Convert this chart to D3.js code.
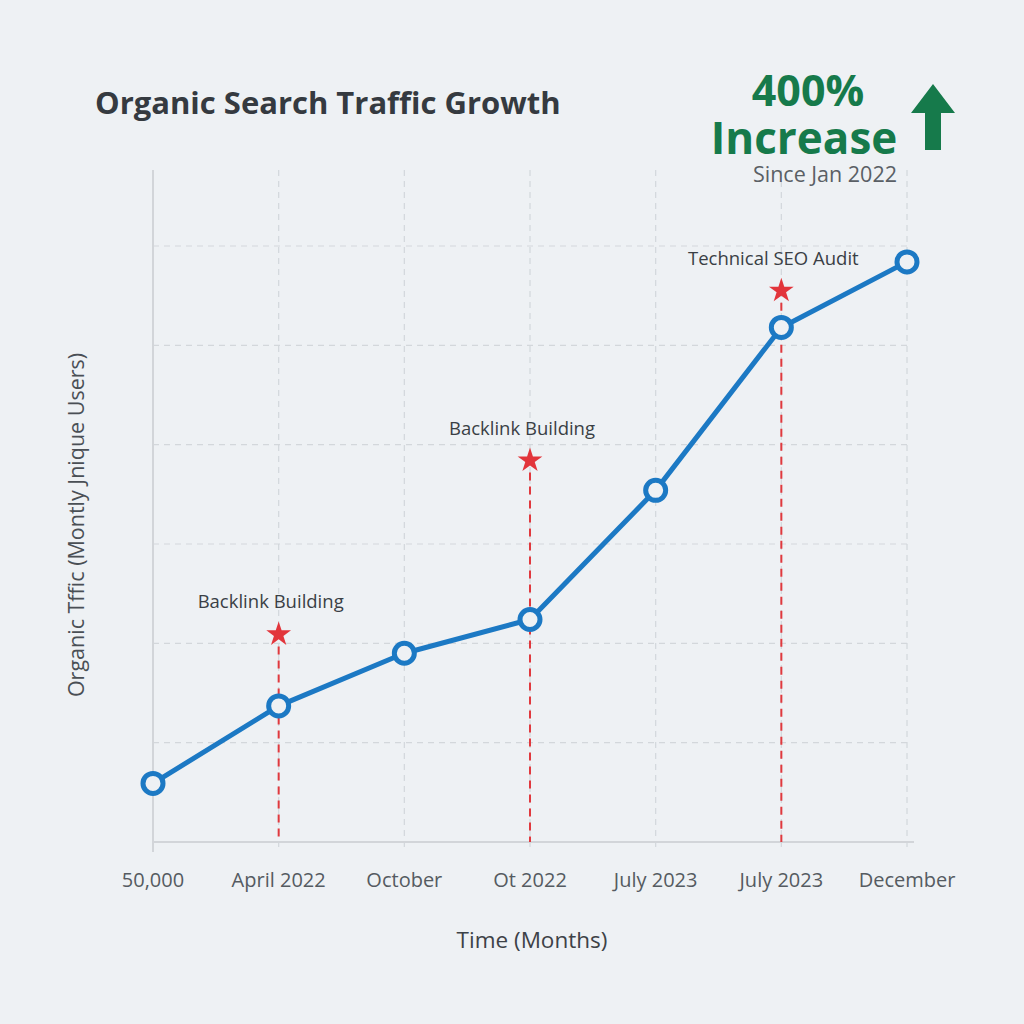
<!DOCTYPE html>
<html>
<head>
<meta charset="utf-8">
<script src="https://cdn.jsdelivr.net/npm/d3@7"></script>
<style>
  body { margin: 0; background: #eef1f4; }
  svg { display: block; font-family: "Open Sans", Lato, sans-serif; }
</style>
</head>
<body>
<svg id="chart"></svg>
<script>
// data
var months = ["50,000", "April 2022", "October", "Ot 2022", "July 2023", "July 2023", "December"];
var traffic = [5900, 13700, 19000, 22400, 35400, 51800, 58400];
var gridValues = [10000, 20000, 30000, 40000, 50000, 60000];
var events = [
  {index: 1, label: "Backlink Building", starValue: 20900},
  {index: 3, label: "Backlink Building", starValue: 38400},
  {index: 5, label: "Technical SEO Audit", starValue: 55500}
];

var svgWidth = 1024, svgHeight = 1024;
var svg = d3.select("#chart")
    .attr("width", svgWidth)
    .attr("height", svgHeight);

svg.append("rect")
    .attr("width", svgWidth)
    .attr("height", svgHeight)
    .attr("fill", "#eef1f4");

var x = d3.scalePoint()
    .domain(d3.range(months.length))
    .range([153, 907]);

var y = d3.scaleLinear()
    .domain([0, 60000])
    .range([842, 246]);

var topY = 170;

// grid
svg.append("g")
    .selectAll("line")
    .data(gridValues)
    .join("line")
    .attr("x1", x(0))
    .attr("x2", x(6))
    .attr("y1", d => y(d))
    .attr("y2", d => y(d))
    .attr("stroke", "#d3d7db")
    .attr("stroke-width", 1.2)
    .attr("stroke-dasharray", "6,5");

svg.append("g")
    .selectAll("line")
    .data(d3.range(1, months.length))
    .join("line")
    .attr("x1", d => x(d))
    .attr("x2", d => x(d))
    .attr("y1", topY)
    .attr("y2", 852)
    .attr("stroke", "#d3d7db")
    .attr("stroke-width", 1.2)
    .attr("stroke-dasharray", "6,5");

// axes lines
svg.append("line")
    .attr("x1", x(0)).attr("x2", x(0))
    .attr("y1", topY).attr("y2", 852)
    .attr("stroke", "#d2d5d9")
    .attr("stroke-width", 2);

svg.append("line")
    .attr("x1", x(0)).attr("x2", x(6) + 7)
    .attr("y1", y(0)).attr("y2", y(0))
    .attr("stroke", "#d2d5d9")
    .attr("stroke-width", 2);

// x tick labels
svg.append("g")
    .selectAll("text")
    .data(months)
    .join("text")
    .attr("x", (d, i) => x(i))
    .attr("y", 887)
    .attr("text-anchor", "middle")
    .attr("font-size", 20)
    .attr("fill", "#555b61")
    .text(d => d);

// event markers
var ev = svg.append("g");
ev.selectAll("line")
    .data(events)
    .join("line")
    .attr("x1", d => x(d.index))
    .attr("x2", d => x(d.index))
    .attr("y1", d => y(d.starValue) + 12)
    .attr("y2", y(0))
    .attr("stroke", "#e0393e")
    .attr("stroke-width", 2)
    .attr("stroke-dasharray", "8,6");

ev.selectAll("path")
    .data(events)
    .join("path")
    .attr("transform", d => "translate(" + x(d.index) + "," + y(d.starValue) + ")")
    .attr("d", d3.symbol().type(d3.symbolStar).size(190))
    .attr("fill", "#e2353b");

ev.selectAll("text")
    .data(events)
    .join("text")
    .attr("x", d => x(d.index) - 8)
    .attr("y", d => y(d.starValue) - 26)
    .attr("text-anchor", "middle")
    .attr("font-size", 18.5)
    .attr("fill", "#3a3f45")
    .text(d => d.label);

// line + points
var line = d3.line()
    .x((d, i) => x(i))
    .y(d => y(d));

svg.append("path")
    .datum(traffic)
    .attr("fill", "none")
    .attr("stroke", "#1c79c4")
    .attr("stroke-width", 5)
    .attr("stroke-linejoin", "round")
    .attr("d", line);

svg.append("g")
    .selectAll("circle")
    .data(traffic)
    .join("circle")
    .attr("cx", (d, i) => x(i))
    .attr("cy", d => y(d))
    .attr("r", 10)
    .attr("fill", "#eef1f4")
    .attr("stroke", "#1c79c4")
    .attr("stroke-width", 5);

// titles
svg.append("text")
    .attr("x", 95)
    .attr("y", 114)
    .attr("font-size", 31)
    .attr("font-weight", "bold")
    .attr("fill", "#353a40")
    .text("Organic Search Traffic Growth");

svg.append("text")
    .attr("x", 532)
    .attr("y", 948)
    .attr("text-anchor", "middle")
    .attr("font-size", 22.5)
    .attr("fill", "#3d4247")
    .text("Time (Months)");

svg.append("text")
    .attr("transform", "translate(84,525) rotate(-90)")
    .attr("text-anchor", "middle")
    .attr("font-size", 21.5)
    .attr("fill", "#4a4f55")
    .text("Organic Tffic (Montly Jnique Users)");

// growth callout
var callout = svg.append("g");
callout.append("text")
    .attr("x", 808)
    .attr("y", 106)
    .attr("text-anchor", "middle")
    .attr("font-size", 43)
    .attr("font-weight", "bold")
    .attr("fill", "#167a4b")
    .text("400%");
callout.append("text")
    .attr("x", 804)
    .attr("y", 154)
    .attr("text-anchor", "middle")
    .attr("font-size", 44)
    .attr("font-weight", "bold")
    .attr("fill", "#167a4b")
    .text("Increase");
callout.append("text")
    .attr("x", 897)
    .attr("y", 182)
    .attr("text-anchor", "end")
    .attr("font-size", 21.5)
    .attr("fill", "#5a5f65")
    .text("Since Jan 2022");

var arrow = d3.path();
arrow.moveTo(933, 84);
arrow.lineTo(955, 113);
arrow.lineTo(941, 113);
arrow.lineTo(941, 150);
arrow.lineTo(925, 150);
arrow.lineTo(925, 113);
arrow.lineTo(911, 113);
arrow.closePath();
callout.append("path")
    .attr("d", arrow.toString())
    .attr("fill", "#167a4b");
</script>
</body>
</html>
